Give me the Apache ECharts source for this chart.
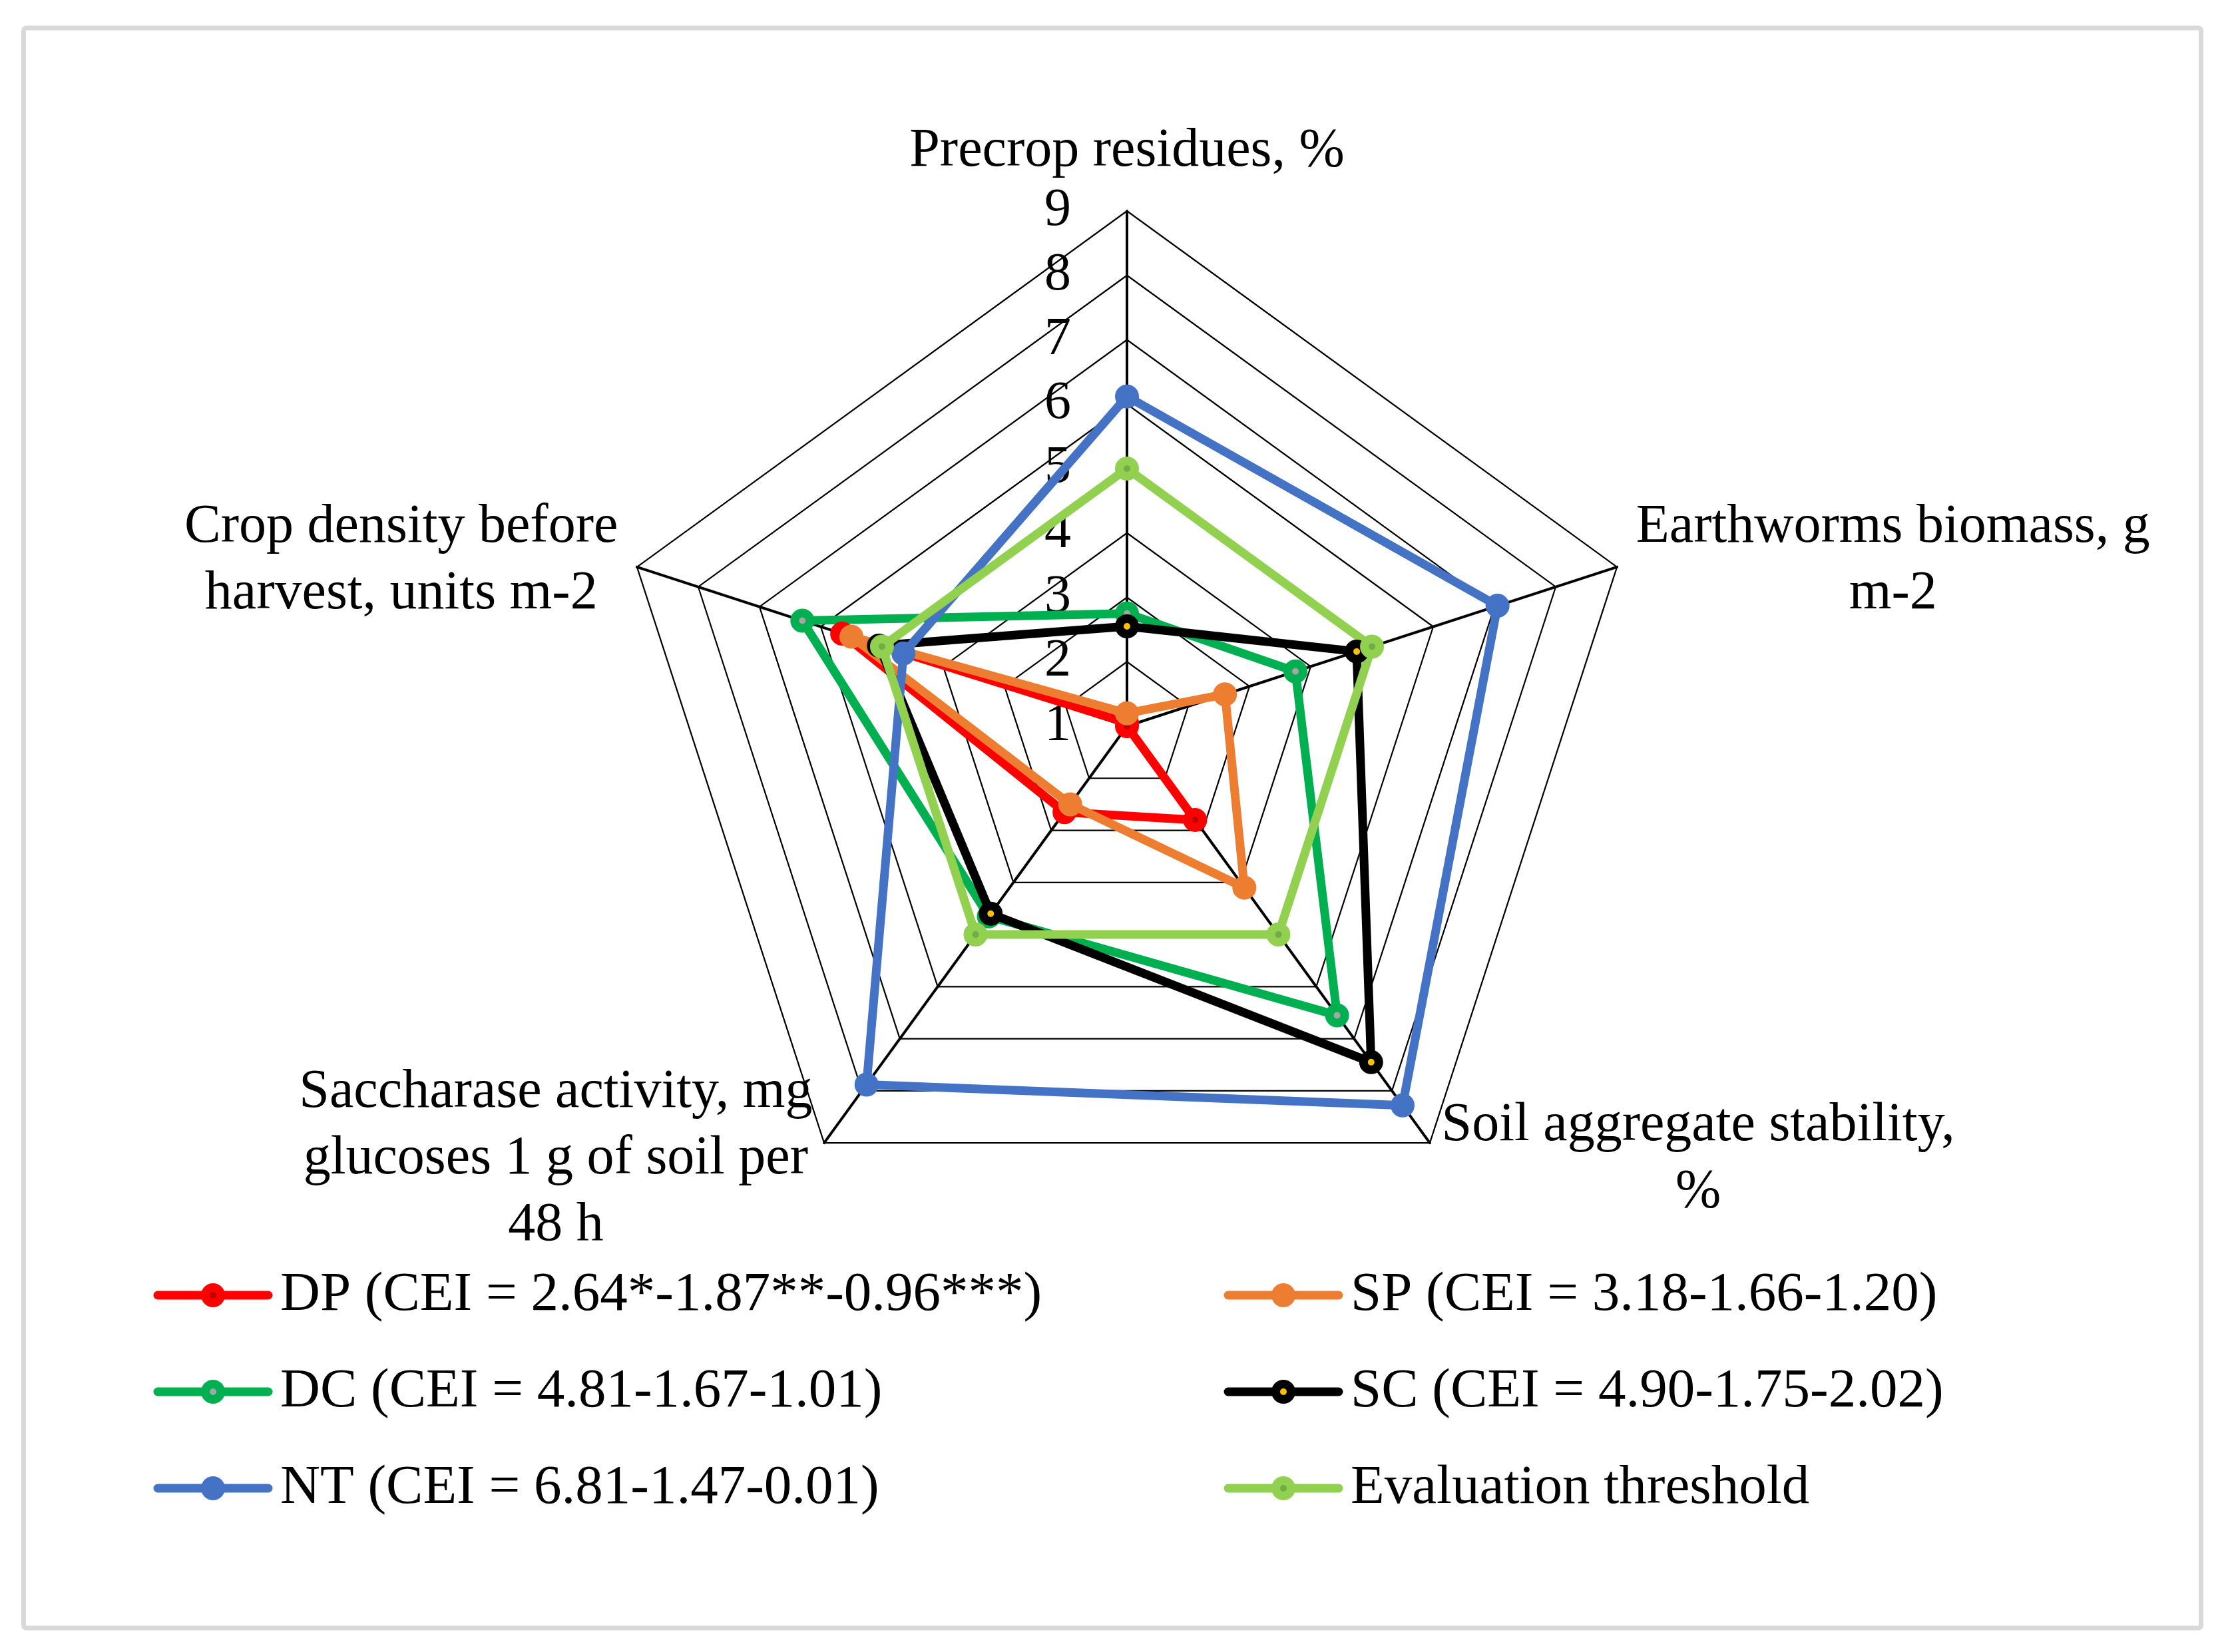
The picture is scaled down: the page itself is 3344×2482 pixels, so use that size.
<!DOCTYPE html>
<html>
<head>
<meta charset="utf-8">
<script src="https://cdn.jsdelivr.net/npm/echarts@6/dist/echarts.min.js"></script>
<style>
html,body{margin:0;padding:0;background:#ffffff;}
#chart{width:3344px;height:2482px;}
</style>
</head>
<body>
<div id="chart"></div>
<script>
// Indicators in ECharts (counter-clockwise from top) order:
// top, upper-left, lower-left, lower-right, upper-right
const indicatorNames = [
  'Precrop residues, %',
  'Crop density before\nharvest, units m-2',
  'Saccharase activity, mg\nglucoses 1 g of soil per\n48 h',
  'Soil aggregate stability,\n%',
  'Earthworms biomass, g\nm-2'
];
const axisMin = 1;
const axisMax = 9;
const axisSplits = 8;

const seriesNames = [
  'DP (CEI = 2.64*-1.87**-0.96***)',
  'SP (CEI = 3.18-1.66-1.20)',
  'DC (CEI = 4.81-1.67-1.01)',
  'SC (CEI = 4.90-1.75-2.02)',
  'NT (CEI = 6.81-1.47-0.01)',
  'Evaluation threshold'
];
// values in indicator order above
const valuesDP   = [1.05, 5.65, 2.65, 2.80, 1.00];
const valuesSP   = [1.20, 5.50, 2.50, 4.10, 2.60];
const valuesDC   = [2.75, 6.30, 4.65, 6.55, 3.75];
const valuesSC   = [2.55, 5.05, 4.60, 7.45, 4.75];
const valuesNT   = [6.12, 4.65, 7.88, 8.28, 7.05];
const valuesEval = [5.00, 5.00, 5.00, 5.00, 5.00];
const allValues = [valuesDP, valuesSP, valuesDC, valuesSC, valuesNT, valuesEval];

const outerColors = ['#FF0000', '#ED7D31', '#00B050', '#000000', '#4472C4', '#92D050'];
const innerColors = ['#C00000', '#ED7D31', '#A5A5A5', '#FFC000', '#4472C4', '#70AD47'];

const FONT = '"Liberation Serif", "Times New Roman", serif';

function iconURI(outer, inner) {
  const svg = '<svg xmlns="http://www.w3.org/2000/svg" width="180" height="40" viewBox="0 0 180 40">' +
    '<line x1="7" y1="20" x2="173" y2="20" stroke="' + outer + '" stroke-width="13" stroke-linecap="round"/>' +
    '<circle cx="90" cy="20" r="18" fill="' + outer + '"/>' +
    '<circle cx="90" cy="20" r="5" fill="' + inner + '"/></svg>';
  return 'image://data:image/svg+xml;charset=utf-8,' + encodeURIComponent(svg);
}

const chart = echarts.init(document.getElementById('chart'), null, {renderer: 'canvas'});

const legendText = {fontFamily: FONT, fontSize: 83, lineHeight: 100, color: '#000', padding: [0, 0, 0, 6]};
function legendBlock(idxs, left) {
  return {
    orient: 'vertical', left: left, top: 1896, padding: 0,
    itemWidth: 180, itemHeight: 40, itemGap: 45,
    selectedMode: false,
    textStyle: legendText,
    data: idxs.map(i => ({name: seriesNames[i], icon: iconURI(outerColors[i], innerColors[i])}))
  };
}

const option = {
  backgroundColor: '#ffffff',
  animation: false,
  graphic: [{
    type: 'rect', silent: true,
    shape: {x: 35.5, y: 42, width: 3271, height: 2404, r: 4},
    style: {fill: 'none', stroke: '#D9D9D9', lineWidth: 7}
  }],
  legend: [legendBlock([0, 2, 4], 230), legendBlock([1, 3, 5], 1838)],
  radar: {
    center: [1693, 1091],
    radius: 774,
    startAngle: 90,
    shape: 'polygon',
    splitNumber: axisSplits,
    nameGap: 30,
    indicator: indicatorNames.map((n, i) => {
      const o = {name: n, min: axisMin, max: axisMax};
      if (i === 0) {
        o.nameGap = 38;
        o.axisLabel = {show: true};
      }
      return o;
    }),
    axisName: {
      color: '#000', fontFamily: FONT, fontSize: 82, lineHeight: 100,
      formatter: function (name) {
        return name.split('\n').map(l => '{c|' + l + '}').join('\n');
      },
      rich: {c: {align: 'center', color: '#000', fontFamily: FONT, fontSize: 82, lineHeight: 100}}
    },
    axisLine: {show: true, lineStyle: {color: '#000', width: 4}},
    splitLine: {show: true, lineStyle: {color: '#000', width: 2.2}},
    splitArea: {show: false},
    axisTick: {show: false},
    axisLabel: {show: false, color: '#000', fontFamily: FONT, fontSize: 80, margin: 84}
  },
  series: seriesNames.map((n, i) => ({
    type: 'radar',
    name: n,
    symbol: 'circle',
    symbolSize: 23,
    silent: true,
    lineStyle: {color: outerColors[i], width: 13, opacity: 1},
    itemStyle: {color: innerColors[i], borderColor: outerColors[i], borderWidth: 13},
    areaStyle: null,
    data: [{name: n, value: allValues[i]}]
  }))
};
chart.setOption(option);
</script>
</body>
</html>
